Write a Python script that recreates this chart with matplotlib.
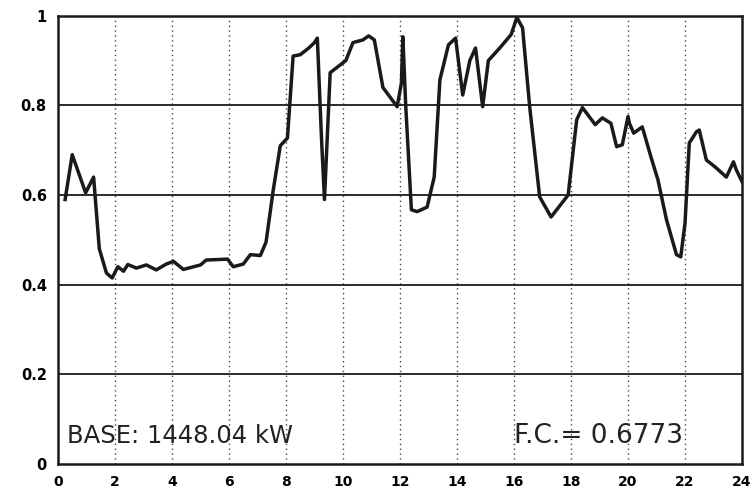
import matplotlib
matplotlib.use("Agg")
import matplotlib.pyplot as plt

# load curve (hour, per-unit of base)
hours = [0.25, 0.5, 0.97, 1.25, 1.45, 1.7, 1.9, 2.1, 2.3, 2.45, 2.75, 3.1, 3.45, 3.8,
         4.05, 4.4, 5.0, 5.2, 5.95, 6.15, 6.5, 6.75, 7.1, 7.3, 7.55, 7.8, 8.05, 8.25,
         8.5, 8.8, 9.0, 9.1, 9.25, 9.35, 9.55, 9.9, 10.1, 10.35, 10.7, 10.9, 11.1, 11.4,
         11.9, 12.05, 12.1, 12.2, 12.4, 12.6, 12.95, 13.2, 13.4, 13.7, 13.95, 14.2,
         14.45, 14.65, 14.9, 15.1, 15.5, 15.9, 16.1, 16.3, 16.55, 16.9, 17.3, 17.9,
         18.2, 18.4, 18.85, 19.1, 19.4, 19.6, 19.8, 20.0, 20.05, 20.2, 20.5, 20.8,
         21.05, 21.35, 21.7, 21.85, 22.0, 22.15, 22.4, 22.5, 22.75, 23.05, 23.45,
         23.7, 23.8, 24.0]
load = [0.59, 0.69, 0.605, 0.64, 0.48, 0.426, 0.415, 0.44, 0.43, 0.445, 0.437, 0.444,
        0.433, 0.446, 0.452, 0.434, 0.444, 0.455, 0.457, 0.44, 0.446, 0.467, 0.465,
        0.495, 0.61, 0.71, 0.727, 0.91, 0.913, 0.928, 0.94, 0.95, 0.72, 0.59, 0.873,
        0.89, 0.90, 0.94, 0.946, 0.955, 0.946, 0.84, 0.797, 0.85, 0.953, 0.8, 0.567,
        0.563, 0.573, 0.64, 0.857, 0.935, 0.95, 0.823, 0.90, 0.928, 0.797, 0.90, 0.928,
        0.958, 0.996, 0.973, 0.797, 0.596, 0.551, 0.60, 0.768, 0.795, 0.757, 0.772,
        0.76, 0.708, 0.712, 0.775, 0.76, 0.738, 0.752, 0.686, 0.634, 0.545, 0.467,
        0.462, 0.537, 0.716, 0.741, 0.745, 0.678, 0.663, 0.64, 0.674, 0.656, 0.63]

x_ticks = list(range(0, 25, 2))
y_ticks = [0, 0.2, 0.4, 0.6, 0.8, 1]
y_labels = ["0", "0.2", "0.4", "0.6", "0.8", "1"]

fig = plt.figure(figsize=(7.55, 4.97), dpi=100)
ax = fig.add_axes([0.0768, 0.0664, 0.906, 0.902])

for x in x_ticks[1:-1]:
    ax.axvline(x, color="#444444", lw=1.0, ls=(0, (1, 2.5)), zorder=1)
for y in y_ticks[1:-1]:
    ax.axhline(y, color="#1a1a1a", lw=1.3, zorder=1)

ax.plot(hours, load, color="#1a1a1a", lw=2.5, zorder=3)

ax.set_xlim(0, 24)
ax.set_ylim(0, 1)
ax.set_xticks(x_ticks)
ax.set_yticks(y_ticks)
ax.set_xticklabels([str(t) for t in x_ticks], fontweight="bold", fontsize=10)
ax.set_yticklabels(y_labels, fontweight="bold", fontsize=10.5)
ax.tick_params(length=0, pad=8)
for s in ax.spines.values():
    s.set_linewidth(1.8)
    s.set_color("#1a1a1a")

ax.text(0.3, 0.063, "BASE: 1448.04 kW", fontsize=17.5, color="#222222",
        va="center", ha="left")
ax.text(16.0, 0.063, "F.C.= 0.6773", fontsize=19, color="#222222",
        va="center", ha="left")

fig.savefig("out.png", dpi=100)
